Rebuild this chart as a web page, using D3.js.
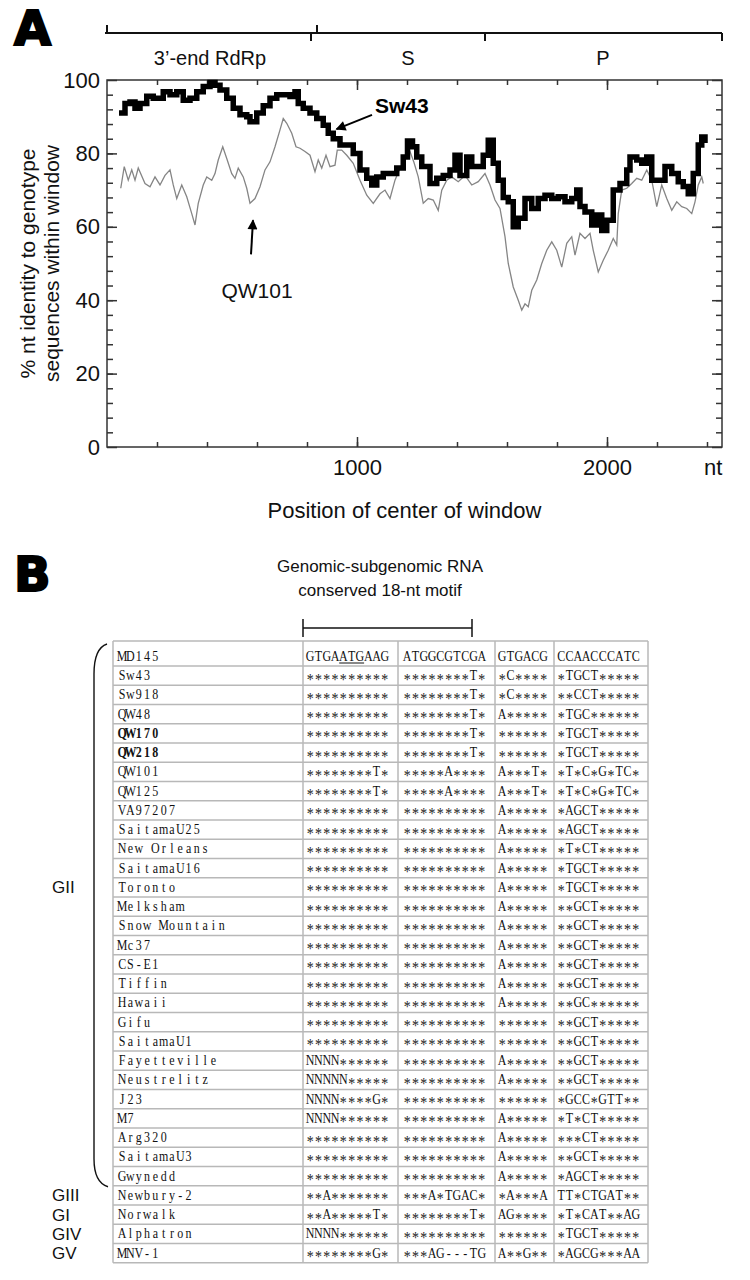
<!DOCTYPE html>
<html><head><meta charset="utf-8">
<script src="https://cdn.jsdelivr.net/npm/d3@7/dist/d3.min.js"></script>
<style>html,body{margin:0;padding:0;background:#fff;}svg{display:block}</style>
</head><body>
<svg id="fig" width="750" height="1280"></svg>
<script>
// ---------------- Panel A data ----------------
const sw43Pos = [59,72,92,112,132,159,185,225,252,279,305,332,359,385,412,432,452,479,505,532,559,572,599,625,652,679,705,732,752,765,785,812,839,865,885,905,932,959,985,1012,1039,1059,1079,1105,1132,1159,1185,1202,1222,1239,1259,1292,1319,1345,1372,1392,1412,1439,1459,1485,1505,1525,1545,1565,1585,1605,1625,1645,1672,1699,1725,1752,1779,1805,1832,1859,1879,1892,1912,1939,1959,1979,1999,2025,2052,2079,2092,2119,2139,2159,2179,2205,2232,2259,2285,2305,2325,2345,2365,2379,2392];
const sw43Val = [91,93.6,94,92.3,93.6,95.6,95,96.8,96,96.8,94.5,95,96.8,98.2,99.3,98.6,97.3,95,92.3,90.5,90,88.6,91,93,95,96,96,95.5,96.8,93.6,92.3,91,89.5,87.7,85.5,84,82.3,82.3,80,75.5,73.2,71.4,73.6,74.5,74.5,76,79,83.4,81.8,79,76.4,71.8,73.2,74,75.5,79.5,74,79,76.4,76.4,79.5,83.6,77.3,72.7,68,66.8,60,62.3,67.7,65,67.7,68.6,67.7,68.2,66.8,67.7,70,65.5,64,60.5,63.2,59,61.8,70,71.8,75.5,79,78.2,77.3,79,72.7,72.7,76.4,74.5,72.3,71,69,74.5,82.3,84.5,83.6];
const qw101Pos = [55,69,85,99,112,125,152,172,192,212,232,252,265,279,299,319,339,352,365,385,399,419,432,445,463,479,499,512,525,545,559,572,592,612,632,652,672,692,705,719,739,756,772,792,812,832,845,859,876,892,912,921,939,959,985,1012,1039,1065,1092,1112,1132,1152,1172,1195,1212,1228,1245,1265,1285,1305,1325,1339,1359,1379,1405,1432,1459,1485,1512,1532,1552,1572,1592,1605,1625,1645,1659,1672,1685,1699,1719,1739,1759,1779,1799,1819,1839,1859,1872,1892,1912,1932,1945,1965,1985,2005,2025,2039,2045,2059,2079,2099,2119,2139,2159,2179,2199,2219,2239,2259,2279,2299,2319,2339,2352,2365,2379,2385];
const qw101Val = [70.5,76.4,72.7,75.5,72.7,76,71.8,70.9,73.6,71.4,74,75.5,71.4,67.7,71.4,68.2,63.6,60.5,66.4,71.4,73.6,72.7,74.5,78.2,81.8,78.6,74.5,73.2,76,73.6,70.5,66.4,67.7,70.9,75.5,77.7,81.8,86.4,89.5,88.2,85.5,81.8,81.4,80.5,79.5,75,78.2,76,79.5,76.4,76.8,80.9,80.9,79.5,77.3,72.7,68.6,66.4,69,70,67.7,72.7,76,79,80.5,77.5,73.6,66.4,67.7,67.3,64.5,70,72.7,73.6,72.3,74,71.4,72.3,74.5,71.4,67.3,65,57.3,50,43.6,40,37.3,39,38.2,42.7,45.5,50,53.6,55.9,53.6,49,55.5,57.3,52.3,58.2,56.8,58.2,53.6,47.7,50.9,53.6,56.8,55,63.6,70,70.5,71.8,73.2,72.7,75.5,72.7,65.5,71.4,67.7,64.5,66.8,65.5,65,63.6,66.8,71.4,73.6,71.8];
const xMinorTicks = [200,400,600,800,1000,1200,1400,1600,1800,2000,2200,2400];
const xMajorTicks = [1000,2000];
const yMinorTicks = [4,8,12,16,20,24,28,32,36,40,44,48,52,56,60,64,68,72,76,80,84,88,92,96];
const yMajorTicks = [0,20,40,60,80,100];
const geneNames = ["3\u2019-end RdRp","S","P"];
const geneLabelPos = [412,1204,1984];
const geneBoundaries = [0,816,840,1512,2460];
const geneTickDir = [-1,1,-1,1,1];

// ---------------- Panel B data ----------------
const strains = ["MD145","Sw43","Sw918","QW48","QW170","QW218","QW101","QW125","VA97207","SaitamaU25","New Orleans","SaitamaU16","Toronto","Melksham","Snow Mountain","Mc37","CS-E1","Tiffin","Hawaii","Gifu","SaitamaU1","Fayetteville","Neustrelitz","J23","M7","Arg320","SaitamaU3","Gwynedd","Newbury-2","Norwalk","Alphatron","MNV-1"];
const seg1 = ["GTGAATGAAG","**********","**********","**********","**********","**********","********T*","********T*","**********","**********","**********","**********","**********","**********","**********","**********","**********","**********","**********","**********","**********","NNNN******","NNNNN*****","NNNN****G*","NNNN******","**********","**********","**********","**A*******","**A*****T*","NNNN******","********G*"];
const seg2 = ["ATGGCGTCGA","********T*","********T*","********T*","********T*","********T*","*****A****","*****A****","**********","**********","**********","**********","**********","**********","**********","**********","**********","**********","**********","**********","**********","**********","**********","**********","**********","**********","**********","**********","***A*TGAC*","********T*","**********","***AG---TG"];
const seg3 = ["GTGACG","*C****","*C****","A*****","******","******","A***T*","A***T*","A*****","A*****","A*****","A*****","A*****","A*****","A*****","A*****","A*****","A*****","A*****","******","******","A*****","A*****","******","A*****","A*****","A*****","A*****","*A***A","AG****","******","A**G**"];
const seg4 = ["CCAACCCATC","*TGCT*****","**CCT*****","*TGC******","*TGCT*****","*TGCT*****","*T*C*G*TC*","*T*C*G*TC*","*AGCT*****","*AGCT*****","*T*CT*****","*TGCT*****","*TGCT*****","**GCT*****","**GCT*****","**GCT*****","**GCT*****","**GCT*****","**GC******","**GCT*****","**GCT*****","**GCT*****","**GCT*****","*GCC*GTT**","*T*CT*****","***CT*****","**GCT*****","*AGCT*****","TT*CTGAT**","*T*CAT**AG","*TGCT*****","*AGCG***AA"];
const boldStrains = ["QW170","QW218"];
const groupLabels = ["GII","GIII","GI","GIV","GV"];
const groupAnchor = ["Toronto","Newbury-2","Norwalk","Alphatron","MNV-1"];
const motifTitle = ["Genomic-subgenomic RNA","conserved 18-nt motif"];

// ---------------- drawing ----------------
const SANS = "'Liberation Sans', Arial, Helvetica, sans-serif";
const SERIF = "'Liberation Serif', 'Times New Roman', serif";
const svg = d3.select("#fig");
svg.append("rect").attr("width",750).attr("height",1280).attr("fill","#fff");

// panel letters
[["A",45],["B",591]].forEach(([t,yy])=>{
  svg.append("text").attr("x",14).attr("y",yy).text(t)
    .attr("font-family","'DejaVu Sans', sans-serif").attr("font-weight","bold")
    .attr("font-size",48).attr("fill","#000").attr("stroke","#000").attr("stroke-width",2);
});

const x = d3.scaleLinear().domain([0,2460]).range([107,722]);
const y = d3.scaleLinear().domain([0,100]).range([447,80]);

// gene bar
const barY = 33;
svg.append("line").attr("x1",x(0)-2).attr("x2",x(2460)).attr("y1",barY).attr("y2",barY)
  .attr("stroke","#111").attr("stroke-width",2);
svg.selectAll(".gtick").data(geneBoundaries).enter().append("line")
  .attr("x1",d=>x(d)).attr("x2",d=>x(d))
  .attr("y1",barY).attr("y2",(d,i)=>barY+geneTickDir[i]*8)
  .attr("stroke","#111").attr("stroke-width",2);
svg.selectAll(".glab").data(geneNames).enter().append("text")
  .attr("x",(d,i)=>x(geneLabelPos[i])).attr("y",65).attr("text-anchor","middle")
  .attr("font-family",SANS).attr("font-size",20).attr("fill","#111").text(d=>d);

function styleAxis(g){
  g.select(".domain").remove();
  g.selectAll("line").attr("stroke","#333").attr("stroke-width",1.5);
  g.selectAll("text").attr("font-family",SANS).attr("font-size",22).attr("fill","#111");
}
// bottom
svg.append("g").attr("transform",`translate(0,${y(0)})`)
  .call(d3.axisBottom(x).tickValues(xMinorTicks).tickSize(-5).tickFormat("")).call(styleAxis);
svg.append("g").attr("transform",`translate(0,${y(0)})`)
  .call(d3.axisBottom(x).tickValues(xMajorTicks).tickSize(-10).tickPadding(12).tickFormat(d3.format("d"))).call(styleAxis);
// top
svg.append("g").attr("transform",`translate(0,${y(100)})`)
  .call(d3.axisTop(x).tickValues(xMinorTicks).tickSize(-5).tickFormat("")).call(styleAxis);
svg.append("g").attr("transform",`translate(0,${y(100)})`)
  .call(d3.axisTop(x).tickValues(xMajorTicks).tickSize(-10).tickFormat("")).call(styleAxis);
// left
svg.append("g").attr("transform",`translate(${x(0)},0)`)
  .call(d3.axisLeft(y).tickValues(yMinorTicks).tickSize(-6).tickFormat("")).call(styleAxis);
svg.append("g").attr("transform",`translate(${x(0)},0)`)
  .call(d3.axisLeft(y).tickValues(yMajorTicks).tickSize(-10).tickPadding(7).tickFormat(d3.format("d"))).call(styleAxis);
// right
svg.append("g").attr("transform",`translate(${x(2460)},0)`)
  .call(d3.axisRight(y).tickValues(yMinorTicks).tickSize(-6).tickFormat("")).call(styleAxis);
svg.append("g").attr("transform",`translate(${x(2460)},0)`)
  .call(d3.axisRight(y).tickValues(yMajorTicks).tickSize(-10).tickFormat("")).call(styleAxis);
// frame
svg.append("rect").attr("x",x(0)).attr("y",y(100)).attr("width",x(2460)-x(0)).attr("height",y(0)-y(100))
  .attr("fill","none").attr("stroke","#333").attr("stroke-width",1.5);

// unit label
svg.append("text").attr("x",x(2425)).attr("y",475).attr("text-anchor","middle")
  .attr("font-family",SANS).attr("font-size",22).attr("fill","#111").text("nt");
// axis titles
svg.append("text").attr("x",x(1190)).attr("y",518).attr("text-anchor","middle")
  .attr("font-family",SANS).attr("font-size",22).attr("fill","#111").text("Position of center of window");
[["% nt identity to genotype",35],["sequences within window",59]].forEach(([t,bx])=>{
  svg.append("text").attr("transform",`translate(${bx},${(y(0)+y(100))/2}) rotate(-90)`)
    .attr("text-anchor","middle").attr("font-family",SANS).attr("font-size",21).attr("fill","#111").text(t);
});

// series
const qw = qw101Pos.map((p,i)=>({p,v:qw101Val[i]}));
const sw = sw43Pos.map((p,i)=>({p,v:sw43Val[i]}));
svg.append("path").datum(qw)
  .attr("d",d3.line().x(d=>x(d.p)).y(d=>y(d.v)))
  .attr("fill","none").attr("stroke","#858585").attr("stroke-width",1.3);
svg.append("path").datum(sw)
  .attr("d",d3.line().x(d=>x(d.p)).y(d=>y(d.v)).curve(d3.curveStepAfter))
  .attr("fill","none").attr("stroke","#000").attr("stroke-width",5.5).attr("stroke-linejoin","miter").attr("stroke-linecap","square");

// annotations
const defs = svg.append("defs");
defs.append("marker").attr("id","ah").attr("viewBox","0 0 10 10").attr("refX",9).attr("refY",5)
  .attr("markerUnits","userSpaceOnUse").attr("markerWidth",12).attr("markerHeight",10).attr("orient","auto")
  .append("path").attr("d","M0,0 L10,5 L0,10 z").attr("fill","#000");
svg.append("line").attr("x1",x(1060)).attr("y1",y(90.5)).attr("x2",x(918)).attr("y2",y(86.6))
  .attr("stroke","#000").attr("stroke-width",2).attr("marker-end","url(#ah)");
svg.append("text").attr("x",x(1072)).attr("y",y(91)).attr("font-family",SANS).attr("font-weight","bold")
  .attr("font-size",21).attr("fill","#000").text("Sw43");
svg.append("line").attr("x1",x(576)).attr("y1",y(52.5)).attr("x2",x(584)).attr("y2",y(61.8))
  .attr("stroke","#000").attr("stroke-width",2).attr("marker-end","url(#ah)");
svg.append("text").attr("x",x(600)).attr("y",y(40.5)).attr("text-anchor","middle").attr("font-family",SANS)
  .attr("font-size",21).attr("fill","#111").text("QW101");

// ---------------- Panel B ----------------
svg.selectAll(".mt").data(motifTitle).enter().append("text")
  .attr("x",380).attr("y",(d,i)=>572+i*24).attr("text-anchor","middle")
  .attr("font-family",SANS).attr("font-size",17).attr("fill","#111").text(d=>d);

const colX = [113,303,398,495,554,648];
const colPad = [5,3,5,3,3];
const headerTop = 641, headerBottom = 666, rowH = 19.25;
const body = strains.slice(1);
const yb = d3.scaleBand().domain(body).range([headerBottom, headerBottom + body.length*rowH]);
const rowBottom = s => s===strains[0] ? headerBottom : yb(s)+yb.bandwidth();
const rowMid = s => s===strains[0] ? (headerTop+headerBottom)/2 : yb(s)+yb.bandwidth()/2;

// bracket above motif
const brY = 628;
svg.append("line").attr("x1",colX[1]).attr("x2",472).attr("y1",brY).attr("y2",brY).attr("stroke","#111").attr("stroke-width",1.5);
[colX[1],472].forEach(xx=>svg.append("line").attr("x1",xx).attr("x2",xx).attr("y1",brY-9).attr("y2",brY+9).attr("stroke","#111").attr("stroke-width",1.5));

// grid
const gridC = "#b8b8b8";
const hLines = [headerTop, headerBottom].concat(body.map(s=>yb(s)+yb.bandwidth()));
svg.selectAll(".hl").data(hLines).enter().append("line")
  .attr("x1",colX[0]).attr("x2",colX[5]).attr("y1",d=>d).attr("y2",d=>d)
  .attr("stroke",gridC).attr("stroke-width",1.5);
const tableBottom = hLines[hLines.length-1];
svg.selectAll(".vl").data(colX).enter().append("line")
  .attr("x1",d=>d).attr("x2",d=>d).attr("y1",headerTop).attr("y2",tableBottom)
  .attr("stroke",gridC).attr("stroke-width",1.5);

// monospaced cell text: each character centred in its own 8.3px cell, glyphs condensed
const CW = 8.3, SX = 0.8;
function monoText(str, x0, yBase, bold){
  const t = svg.append("text").attr("transform",`scale(${SX},1)`)
    .attr("font-family",SERIF).attr("font-size",15).attr("fill","#111")
    .attr("text-anchor","middle").attr("font-weight",bold?"bold":"normal");
  Array.from(str).forEach((ch,i)=>{
    if(ch===" ") return;
    const star = ch==="*";
    t.append("tspan").attr("x",(x0+(i+0.5)*CW)/SX).attr("y",yBase+(star?4.5:0))
      .attr("font-size",star?17.5:15).attr("fill",star?"#222":"#111").text(ch);
  });
}
const cols = [strains, seg1, seg2, seg3, seg4];
cols.forEach((arr,c)=>{
  arr.forEach((str,i)=>{
    monoText(str, colX[c]+colPad[c], rowBottom(strains[i])-5, c===0 && boldStrains.includes(strains[i]));
  });
});
// underline ATG in MD145 first segment
svg.append("line").attr("x1",colX[1]+colPad[1]+4*CW).attr("x2",colX[1]+colPad[1]+7*CW)
  .attr("y1",rowBottom(strains[0])-3).attr("y2",rowBottom(strains[0])-3).attr("stroke","#111").attr("stroke-width",1);

// brace for GII
const bTop = headerTop+3, bBot = yb("Gwynedd")+yb.bandwidth()+1;
svg.append("path")
  .attr("d",`M107,${bTop} C98,${bTop+3} 94,${bTop+12} 94,${bTop+30} L94,${bBot-28} C94,${bBot-12} 98,${bBot-3} 108,${bBot}`)
  .attr("fill","none").attr("stroke","#111").attr("stroke-width",1.4);

// group labels
svg.selectAll(".grp").data(groupLabels).enter().append("text")
  .attr("x",52).attr("y",(d,i)=>rowMid(groupAnchor[i])+6)
  .attr("font-family",SANS).attr("font-size",17).attr("fill","#111").text(d=>d);
</script>
</body></html>
